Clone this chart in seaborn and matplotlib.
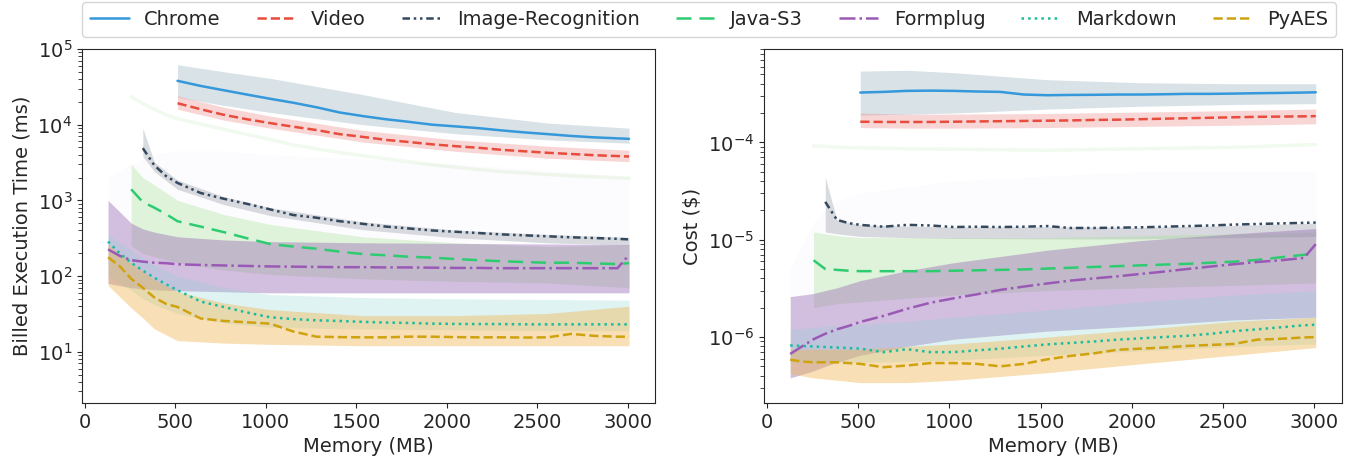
import pandas as pd
import matplotlib
matplotlib.use("Agg")
import matplotlib.pyplot as plt
import seaborn as sns
import numpy as np

# memory grid used for the median lines (MB)
MEM = [128, 192, 256, 320, 384, 448, 512, 640, 768, 896, 1024, 1152, 1280, 1408,
       1536, 1664, 1792, 1920, 2048, 2176, 2304, 2432, 2560, 2688, 2816, 2944, 3008]
# coarser grid used for the scatter clouds
BAND_MEM = [128, 256, 320, 384, 512, 768, 1024, 1536, 2048, 2560, 3008]

NAMES = ['Chrome', 'Video', 'Image-Recognition', 'Java-S3', 'Formplug', 'Markdown', 'PyAES']

# ---- median billed execution time (ms) ----
CHROME_MS = [None, None, None, None, None, None,
             38000, 32500, 28500, 25000, 22000, 19500, 17000, 14500, 13000, 11800, 10900,
             10000, 9500, 9000, 8400, 7900, 7500, 7100, 6800, 6600, 6500]
VIDEO_MS = [None, None, None, None, None, None,
            19200, 16000, 13500, 11800, 10500, 9400, 8500, 7500, 6900, 6300, 5900,
            5500, 5200, 4950, 4650, 4450, 4250, 4100, 3950, 3850, 3800]
IMAGE_MS = [None, None, None,
            4900, 2900, 2100, 1700, 1250, 1050, 900, 760, 640, 590, 530, 490, 450,
            425, 400, 385, 370, 355, 345, 335, 325, 318, 310, 305]
JAVA_MS = [None, None,
           1400, 950, 800, 660, 530, 450, 380, 316, 265, 245, 230, 210, 195, 188,
           180, 175, 168, 162, 157, 153, 150, 150, 147, 144, 148]
FORM_MS = [225, 185, 162, 155, 150, 148, 143, 140, 138, 136, 134, 133, 132, 131,
           131, 130, 130, 129, 128, 128, 127, 127, 127, 127, 127, 127, 190]
MARK_MS = [285, 200, 150, 118, 95, 78, 65, 46, 39, 33, 28.5, 27, 26, 25.5,
           24.8, 24.3, 24, 23.5, 23.3, 23.2, 23.2, 23, 23, 23, 23, 23, 23]
PYAES_MS = [177, 135, 92, 70, 52, 43, 39, 27.5, 25.5, 24.5, 23.5, 18.5, 15.8, 15.6,
            15.5, 15.5, 15.8, 15.8, 15.6, 15.5, 15.5, 15.4, 15.5, 17.2, 16.2, 15.8, 15.8]
JAVA_TRAIL_MS = [None, None,
                 23400, 19000, 16000, 13500, 12000, 10200, 8700, 7400, 6400, 5400, 4800,
                 4300, 3900, 3550, 3250, 2950, 2750, 2550, 2400, 2300, 2200, 2100, 2050,
                 2000, 1960]

# ---- median cost ($) ----
CHROME_COST = [None, None, None, None, None, None,
               3.25e-4, 3.3e-4, 3.38e-4, 3.4e-4, 3.38e-4, 3.33e-4, 3.3e-4, 3.1e-4, 3.05e-4,
               3.07e-4, 3.08e-4, 3.1e-4, 3.1e-4, 3.12e-4, 3.15e-4, 3.15e-4, 3.17e-4, 3.2e-4,
               3.22e-4, 3.25e-4, 3.27e-4]
VIDEO_COST = [None, None, None, None, None, None,
              1.63e-4, 1.62e-4, 1.62e-4, 1.62e-4, 1.63e-4, 1.64e-4, 1.65e-4, 1.66e-4, 1.67e-4,
              1.68e-4, 1.70e-4, 1.71e-4, 1.73e-4, 1.75e-4, 1.77e-4, 1.79e-4, 1.81e-4, 1.83e-4,
              1.84e-4, 1.85e-4, 1.86e-4]
IMAGE_COST = [None, None, None,
              2.45e-5, 1.6e-5, 1.48e-5, 1.42e-5, 1.36e-5, 1.42e-5, 1.40e-5, 1.35e-5, 1.36e-5,
              1.35e-5, 1.36e-5, 1.38e-5, 1.32e-5, 1.32e-5, 1.33e-5, 1.34e-5, 1.36e-5, 1.38e-5,
              1.4e-5, 1.43e-5, 1.45e-5, 1.47e-5, 1.49e-5, 1.50e-5]
JAVA_COST = [None, None,
             6.15e-6, 5.0e-6, 4.9e-6, 4.8e-6, 4.75e-6, 4.75e-6, 4.75e-6, 4.75e-6, 4.8e-6,
             4.85e-6, 4.9e-6, 4.95e-6, 5.05e-6, 5.15e-6, 5.25e-6, 5.35e-6, 5.45e-6, 5.55e-6,
             5.65e-6, 5.8e-6, 5.95e-6, 6.2e-6, 6.6e-6, 7.0e-6, 7.2e-6]
FORM_COST = [6.7e-7, 8.0e-7, 9.5e-7, 1.08e-6, 1.2e-6, 1.3e-6, 1.43e-6, 1.65e-6, 1.95e-6,
             2.25e-6, 2.5e-6, 2.75e-6, 3.05e-6, 3.3e-6, 3.55e-6, 3.8e-6, 4.0e-6, 4.2e-6,
             4.45e-6, 4.7e-6, 5.0e-6, 5.3e-6, 5.6e-6, 5.9e-6, 6.15e-6, 6.5e-6, 9.0e-6]
MARK_COST = [8.2e-7, 8.1e-7, 8.0e-7, 7.9e-7, 7.8e-7, 7.7e-7, 7.6e-7, 7.0e-7, 7.5e-7,
             7.0e-7, 7.0e-7, 7.3e-7, 7.6e-7, 8.0e-7, 8.4e-7, 8.7e-7, 9.0e-7, 9.4e-7,
             9.7e-7, 1.0e-6, 1.03e-6, 1.08e-6, 1.15e-6, 1.2e-6, 1.26e-6, 1.32e-6, 1.34e-6]
PYAES_COST = [5.85e-7, 5.6e-7, 5.5e-7, 5.5e-7, 5.5e-7, 5.4e-7, 5.3e-7, 4.9e-7, 5.1e-7,
              5.4e-7, 5.4e-7, 5.3e-7, 5.0e-7, 5.3e-7, 5.9e-7, 6.4e-7, 6.8e-7, 7.4e-7,
              7.6e-7, 7.8e-7, 8.1e-7, 8.3e-7, 8.5e-7, 9.4e-7, 9.6e-7, 9.9e-7, 1.0e-6]
JAVA_TRAIL_COST = [None, 9.2e-5, 9.1e-5, 8.9e-5, 8.8e-5, 8.6e-5, 8.5e-5, 8.3e-5, 8.6e-5, 8.9e-5, 9.5e-5]

# ---- spread of the raw samples (lower / upper edge of each cloud) ----
CHROME_MS_LO = [None, None, None, None, 23000, 18000, 14500, 10000, 7600, 6300, 5700]
CHROME_MS_HI = [None, None, None, None, 62000, 50000, 41000, 25000, 14500, 10500, 9000]
VIDEO_MS_LO = [None, None, None, None, 16000, 11500, 9000, 5900, 4450, 3600, 3250]
VIDEO_MS_HI = [None, None, None, None, 24000, 17000, 13000, 8400, 6300, 5200, 4600]
IMAGE_MS_LO = [None, None, 3800, 2400, 1400, 880, 630, 410, 320, 275, 255]
IMAGE_MS_HI = [None, None, 9000, 3200, 1850, 1120, 800, 520, 405, 355, 325]
JAVA_MS_LO = [None, 250, 200, 180, 150, 120, 105, 92, 85, 81, 70]
JAVA_MS_HI = [None, 3000, 2000, 1600, 1000, 650, 480, 330, 275, 245, 260]
FORM_MS_LO = [80, 70, 68, 66, 64, 62, 60, 60, 60, 60, 60]
FORM_MS_HI = [1000, 500, 420, 380, 330, 300, 285, 275, 270, 265, 260]
FORM_MS_SPARSE = [2000, 3000, 3500, 4000, 4500, 4500, 4000, 3500, 3000, 2500, 2000]
MARK_MS_LO = [100, 65, 50, 42, 32, 24, 21, 20, 19.5, 19, 19]
MARK_MS_HI = [350, 220, 170, 140, 100, 70, 57, 52, 50, 49, 48]
PYAES_MS_LO = [75, 38, 28, 20, 14, 13, 12.5, 12, 12, 12, 12]
PYAES_MS_HI = [260, 150, 115, 90, 62, 44, 36, 30, 30, 32, 40]

CHROME_COST_LO = [None, None, None, None, 1.9e-4, 1.95e-4, 2.0e-4, 2.2e-4, 2.35e-4, 2.45e-4, 2.5e-4]
CHROME_COST_HI = [None, None, None, None, 5.4e-4, 5.5e-4, 5.2e-4, 4.4e-4, 4.1e-4, 4.0e-4, 4.0e-4]
VIDEO_COST_LO = [None, None, None, None, 1.42e-4, 1.40e-4, 1.40e-4, 1.42e-4, 1.46e-4, 1.5e-4, 1.55e-4]
VIDEO_COST_HI = [None, None, None, None, 2.0e-4, 1.95e-4, 1.95e-4, 1.98e-4, 2.05e-4, 2.12e-4, 2.2e-4]
IMAGE_COST_LO = [None, None, 1.2e-5, 1.15e-5, 1.08e-5, 1.05e-5, 1.03e-5, 1.02e-5, 1.02e-5, 1.05e-5, 1.08e-5]
IMAGE_COST_HI = [None, None, 4.4e-5, 1.6e-5, 1.42e-5, 1.38e-5, 1.35e-5, 1.36e-5, 1.34e-5, 1.40e-5, 1.48e-5]
JAVA_COST_LO = [None, 2.0e-6, 2.1e-6, 2.2e-6, 2.3e-6, 2.5e-6, 2.7e-6, 3.0e-6, 3.2e-6, 3.4e-6, 3.6e-6]
JAVA_COST_HI = [None, 1.2e-5, 1.15e-5, 1.1e-5, 1.05e-5, 1.05e-5, 1.05e-5, 1.05e-5, 1.1e-5, 1.15e-5, 1.2e-5]
FORM_COST_LO = [3.8e-7, 4.5e-7, 5.0e-7, 5.5e-7, 6.5e-7, 8.0e-7, 9.5e-7, 1.15e-6, 1.3e-6, 1.5e-6, 1.6e-6]
FORM_COST_HI = [2.6e-6, 2.8e-6, 3.0e-6, 3.2e-6, 3.8e-6, 4.8e-6, 5.8e-6, 7.8e-6, 9.8e-6, 1.15e-5, 1.3e-5]
FORM_COST_SPARSE = [5e-6, 1.5e-5, 2.0e-5, 2.5e-5, 3.0e-5, 3.5e-5, 4.0e-5, 4.5e-5, 5.0e-5, 5.0e-5, 5.0e-5]
MARK_COST_LO = [5.5e-7, 5.5e-7, 5.5e-7, 5.5e-7, 5.5e-7, 5.6e-7, 5.8e-7, 6.5e-7, 7.2e-7, 8.0e-7, 8.5e-7]
MARK_COST_HI = [1.2e-6, 1.25e-6, 1.3e-6, 1.3e-6, 1.35e-6, 1.45e-6, 1.6e-6, 1.9e-6, 2.3e-6, 2.7e-6, 3.0e-6]
PYAES_COST_LO = [4.2e-7, 3.8e-7, 3.7e-7, 3.6e-7, 3.4e-7, 3.4e-7, 3.6e-7, 4.3e-7, 5.3e-7, 6.5e-7, 7.8e-7]
PYAES_COST_HI = [7.5e-7, 7.5e-7, 7.5e-7, 7.5e-7, 7.5e-7, 8.0e-7, 8.5e-7, 1.0e-6, 1.2e-6, 1.45e-6, 1.6e-6]

LINE_COLORS = ['#3498db', '#e74c3c', '#34495e', '#2ecc71', '#9b59b6', '#1abc9c', '#cfa20e']
CLOUD_COLORS = ['#7f9fb0', '#f08a8a', '#a0a8b0', '#9ddf8a', '#9565b3', '#8fd5d5', '#f0b550']
CLOUD_ALPHA = [0.3, 0.35, 0.4, 0.3, 0.42, 0.28, 0.42]
STYLES = ['-', '--', (0, (3, 1.5, 1, 1.5, 1, 1.5)), (0, (6, 3.2)), '-.', ':', '--']

time_lines = [CHROME_MS, VIDEO_MS, IMAGE_MS, JAVA_MS, FORM_MS, MARK_MS, PYAES_MS]
time_bands = [(CHROME_MS_LO, CHROME_MS_HI), (VIDEO_MS_LO, VIDEO_MS_HI), (IMAGE_MS_LO, IMAGE_MS_HI),
              (JAVA_MS_LO, JAVA_MS_HI), (FORM_MS_LO, FORM_MS_HI), (MARK_MS_LO, MARK_MS_HI),
              (PYAES_MS_LO, PYAES_MS_HI)]
cost_lines = [CHROME_COST, VIDEO_COST, IMAGE_COST, JAVA_COST, FORM_COST, MARK_COST, PYAES_COST]
cost_bands = [(CHROME_COST_LO, CHROME_COST_HI), (VIDEO_COST_LO, VIDEO_COST_HI),
              (IMAGE_COST_LO, IMAGE_COST_HI), (JAVA_COST_LO, JAVA_COST_HI),
              (FORM_COST_LO, FORM_COST_HI), (MARK_COST_LO, MARK_COST_HI),
              (PYAES_COST_LO, PYAES_COST_HI)]


def to_frame(xs, ys):
  # drop the memory sizes where a function was not measured
  df = pd.DataFrame({'mem': xs, 'val': ys})
  return df.dropna()


def draw_panel(ax, lines, bands, trail_x, trail_y, sparse_lo, sparse_hi):
  # faint trail of java cold-start samples
  tr = to_frame(trail_x, trail_y)
  ax.plot(tr['mem'], tr['val'], color='#9ddf8a', lw=2.5, alpha=0.14, zorder=1)
  # sparse formplug outliers
  ax.fill_between(BAND_MEM, sparse_lo, sparse_hi, color='#9565b3', alpha=0.025, lw=0, zorder=1)
  # sample clouds
  for i, (lo, hi) in enumerate(bands):
    df = pd.DataFrame({'mem': BAND_MEM, 'lo': lo, 'hi': hi}).dropna()
    ax.fill_between(df['mem'], df['lo'].astype(float), df['hi'].astype(float),
                    color=CLOUD_COLORS[i], alpha=CLOUD_ALPHA[i], lw=0, zorder=2 + i)
  # median lines
  for i, ys in enumerate(lines):
    df = to_frame(MEM, ys)
    sns.lineplot(data=df, x='mem', y='val', ax=ax, color=LINE_COLORS[i],
                 linestyle=STYLES[i], lw=1.8, label=NAMES[i], errorbar=None,
                 legend=False, zorder=20)
  ax.set_yscale('log')
  ax.set_xlabel('Memory (MB)', fontsize=14)
  ax.set_xticks([0, 500, 1000, 1500, 2000, 2500, 3000])
  ax.tick_params(axis='both', labelsize=14)
  ax.tick_params(axis='y', which='minor', length=3)


sns.set_style("ticks")
plt.rcParams['font.family'] = ['DejaVu Sans']

fig = plt.figure(figsize=(13.49, 4.65), dpi=100)
ax1 = fig.add_axes([0.0608, 0.1333, 0.4248, 0.7613])
ax2 = fig.add_axes([0.5663, 0.1333, 0.4285, 0.7613])

draw_panel(ax1, time_lines, time_bands, MEM, JAVA_TRAIL_MS, FORM_MS_HI, FORM_MS_SPARSE)
ax1.set_ylabel('Billed Execution Time (ms)', fontsize=14)
ax1.set_ylim(2.1, 1e5)

draw_panel(ax2, cost_lines, cost_bands, BAND_MEM, JAVA_TRAIL_COST, FORM_COST_HI, FORM_COST_SPARSE)
ax2.set_ylabel('Cost ($)', fontsize=14)
ax2.set_ylim(2.1e-7, 9.1e-4)

for ax in (ax1, ax2):
  for s in ax.spines.values():
    s.set_visible(True)
    s.set_color('#262626')

handles, labels = ax1.get_legend_handles_labels()
fig.legend(handles, labels, loc='upper left', ncol=7, mode='expand', fontsize=14,
           bbox_to_anchor=(82 / 1349, 0.995, (1336 - 82) / 1349, 0.0),
           borderaxespad=0, handlelength=2.0, frameon=True)

fig.savefig('out.png', dpi=100)
